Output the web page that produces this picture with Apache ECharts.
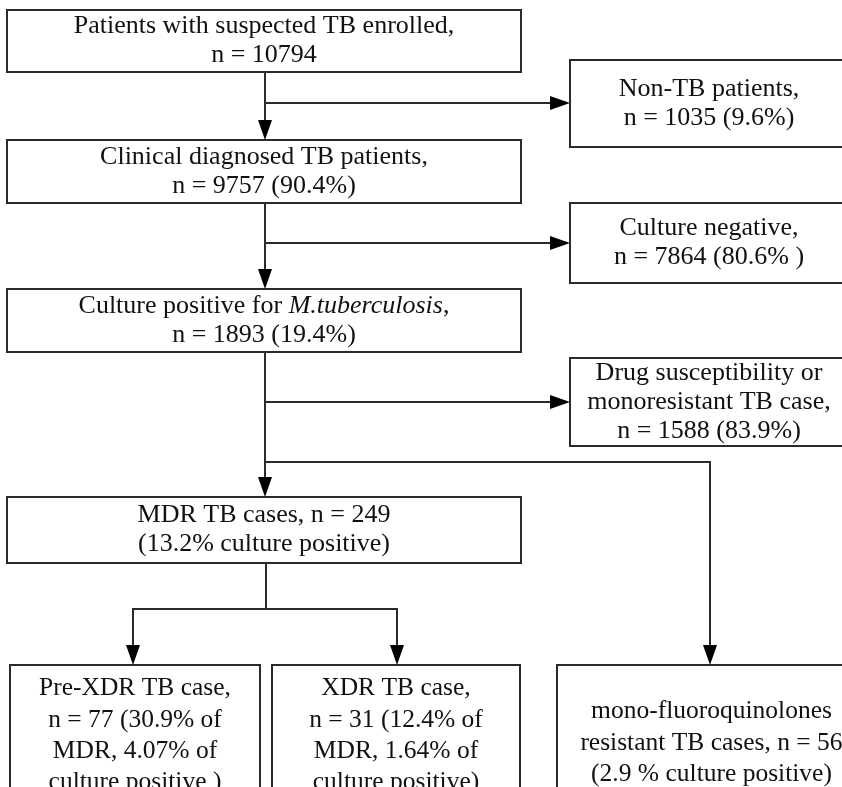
<!DOCTYPE html>
<html lang="en">
<head>
    <meta charset="UTF-8">
    <title>TB flow chart</title>
    <script src="https://cdn.jsdelivr.net/npm/echarts@6/dist/echarts.min.js"></script>
    <style>
        html, body { margin: 0; padding: 0; background: #fff; }
        #flowBox { width: 842px; height: 787px; }
    </style>
</head>
<body>
    <div id="flowBox"></div>
    <script>
        // counts and shares shown in each box
        var counts = [10794, 1035, 9757, 7864, 1893, 1588, 249, 77, 31, 56];
        var shares = ['', '9.6%', '90.4%', '80.6% ', '19.4%', '83.9%', '13.2%', '30.9%', '12.4%', '2.9 %'];
        var subShares = ['', '', '', '', '', '', '', '4.07%', '1.64%', ''];

        var boxTexts = [
            'Patients with suspected TB enrolled,\nn = ' + counts[0],
            'Non-TB patients,\nn = ' + counts[1] + ' (' + shares[1] + ')',
            'Clinical diagnosed TB patients,\nn = ' + counts[2] + ' (' + shares[2] + ')',
            'Culture negative,\nn = ' + counts[3] + ' (' + shares[3] + ')',
            'Culture positive for {i|M.tuberculosis},\nn = ' + counts[4] + ' (' + shares[4] + ')',
            'Drug susceptibility or\nmonoresistant TB case,\nn = ' + counts[5] + ' (' + shares[5] + ')',
            'MDR TB cases, n = ' + counts[6] + '\n(' + shares[6] + ' culture positive)',
            'Pre-XDR TB case,\nn = ' + counts[7] + ' (' + shares[7] + ' of\nMDR, ' + subShares[7] + ' of\nculture positive )',
            'XDR TB case,\nn = ' + counts[8] + ' (' + shares[8] + ' of\nMDR, ' + subShares[8] + ' of\nculture positive)',
            'mono-fluoroquinolones\nresistant TB cases, n = ' + counts[9] + '\n(' + shares[9] + ' culture positive)'
        ];

        // layout: [x1, y1, x2, y2]
        var boxRects = [
            [7, 10, 521, 72],
            [570, 60, 848, 147],
            [7, 140, 521, 203],
            [570, 203, 848, 283],
            [7, 289, 521, 352],
            [570, 358, 848, 446],
            [7, 497, 521, 563],
            [10, 665, 260, 800],
            [272, 665, 520, 800],
            [557, 665, 866, 800]
        ];
        // text top for the lower boxes (null = centred)
        var textTops = [null, null, null, null, null, null, null, 673, 673, 696];

        // connectors: polyline points, last segment ends in an arrow
        var links = [
            [[265, 72], [265, 140]],
            [[265, 103], [570, 103]],
            [[265, 203], [265, 289]],
            [[265, 243], [570, 243]],
            [[265, 352], [265, 497]],
            [[265, 402], [570, 402]],
            [[265, 462], [710, 462], [710, 665]],
            [[266, 563], [266, 609]],
            [[266, 609], [133, 609], [133, 665]],
            [[266, 609], [397, 609], [397, 665]]
        ];
        var arrowed = [true, true, true, true, true, true, true, false, true, true];

        var lineColor = '#2b2b2b';
        var fontFamily = '"Liberation Serif", "Times New Roman", serif';

        function arrowHead(p0, p1) {
            var dx = p1[0] - p0[0], dy = p1[1] - p0[1];
            var len = Math.sqrt(dx * dx + dy * dy);
            var ux = dx / len, uy = dy / len;
            var hl = 20, hw = 7;
            var bx = p1[0] - ux * hl, by = p1[1] - uy * hl;
            return [[bx - uy * hw, by + ux * hw], [bx + uy * hw, by - ux * hw], [p1[0], p1[1]]];
        }

        var elements = [];
        boxRects.forEach(function (r, i) {
            elements.push({
                type: 'rect',
                shape: { x: r[0], y: r[1], width: r[2] - r[0], height: r[3] - r[1] },
                style: { fill: '#fff', stroke: lineColor, lineWidth: 2 },
                z: 1
            });
            var bottom = i >= 7;
            var fs = bottom ? 25.5 : 26;
            var lh = bottom ? 31.3 : 29;
            elements.push({
                type: 'text',
                x: (r[0] + r[2]) / 2,
                y: textTops[i] == null ? (r[1] + r[3]) / 2 : textTops[i],
                style: {
                    text: boxTexts[i],
                    fill: '#111',
                    fontFamily: fontFamily,
                    fontSize: fs,
                    lineHeight: lh,
                    align: 'center',
                    verticalAlign: textTops[i] == null ? 'middle' : 'top',
                    rich: {
                        i: { fontStyle: 'italic', fontFamily: fontFamily, fontSize: fs, lineHeight: lh }
                    }
                },
                z: 3
            });
        });

        links.forEach(function (pts, i) {
            var drawPts = pts.slice();
            if (arrowed[i]) {
                var n = pts.length;
                var head = arrowHead(pts[n - 2], pts[n - 1]);
                drawPts[n - 1] = [(head[0][0] + head[1][0]) / 2, (head[0][1] + head[1][1]) / 2];
                elements.push({
                    type: 'polygon',
                    shape: { points: head },
                    style: { fill: '#000' },
                    z: 2
                });
            }
            elements.push({
                type: 'polyline',
                shape: { points: drawPts },
                style: { stroke: lineColor, lineWidth: 2, fill: null },
                z: 2
            });
        });

        var flowChart = echarts.init(document.getElementById('flowBox'));
        flowChart.setOption({
            animation: false,
            backgroundColor: '#fff',
            graphic: { elements: elements }
        });
    </script>
</body>
</html>
